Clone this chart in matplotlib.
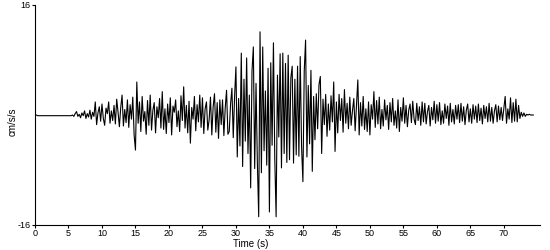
import numpy as np
import matplotlib
matplotlib.use("Agg")
import matplotlib.pyplot as plt

dt = 0.2  # sampling interval (s)

pre_event = [0.0, 0.0, -0.1, -0.1, -0.1, -0.1, -0.1, -0.1, -0.1, -0.1,
             -0.1, -0.1, -0.1, -0.1, -0.1, -0.1, -0.1, -0.1, -0.1, -0.1,
             -0.1, -0.1, -0.1, -0.1, -0.1, -0.1, -0.1, -0.1, 0.0, -0.2]

p_wave = [0.2, 0.5, -0.2, 0.1, -0.4,
          0.3, -0.1, 0.6, -0.5, 0.2,
          -0.3, 0.7, -0.6, 0.4, -0.2,
          1.9, -1.4, 0.3, 1.2, -0.9,
          1.6, -0.5, -1.5, 1.0, 0.2,
          1.9, -1.2, 0.6, -0.8, 1.4,
          -1.3, 2.3, 0.4, -1.7, 1.1,
          2.9, -1.6, 0.8, -1.1, 2.2]

s_onset = [-1.8, 1.5, -0.6, 2.6, -2.9,
           -5.1, 4.8, -1.2, 1.9, -2.4,
           2.7, -0.9, 0.5, -2.8, 2.1,
           -1.5, 2.9, -2.2, 0.7, 1.8,
           -2.6, 1.2, -0.4, 2.4, -1.9,
           3.4, -2.1, 0.9, -2.7, 1.6,
           -1.1, 2.5, -2.9, 1.3, 0.4]

s_build = [2.2, -1.7, 0.6, -2.4, 2.8,
           -0.8, 4.1, -1.9, 1.4, -2.6,
           2.0, -4.1, 1.1, -0.6, 2.7,
           -2.3, 1.5, -1.0, 2.9, -1.8,
           2.5, -2.7, 0.9, 1.9, -2.2,
           -0.7, 2.6, -2.9, 1.2, 3.1,
           -2.5, 1.8, -3.4, 2.2, -1.4,
           2.2, -3.0, 1.0, 3.6, -2.8]

strong_motion = [-2.4, 1.6, 3.9, -3.3, 2.7,
                 7.0, -6.1, 2.4, -4.5, 9.0,
                 -7.5, 5.2, -3.8, 8.3, -5.6,
                 2.9, -10.6, 6.4, 9.9, -7.8,
                 4.6, -6.9, -14.8, 12.1, -8.4,
                 9.9, -5.2, 3.5, -7.3, 6.8,
                 -14.1, 7.6, -4.4, 10.5, -6.3,
                 -14.8, 5.8, -3.2, 8.9, -7.7,
                 9.0, -5.6, 7.5, -6.9, 8.7,
                 -6.5, 5.4, 7.1, -7.0, 5.2,
                 -5.8, 7.1, -6.0, 8.5, -4.6,
                 -9.7, 6.4, 10.9, -6.1, 4.3,
                 -4.2, 6.5, -8.2, 2.7, -3.6]

coda = [3.1, -2.0, 4.4, 5.6, -5.6,
        2.3, -1.4, 3.0, -3.1, 1.6,
        -2.2, 2.8, -1.0, 4.8, -5.3,
        1.9, -2.6, 3.0, -0.8, 2.4,
        -2.5, 3.7, -1.2, 1.7, -2.0,
        2.6, -1.5, 0.6, 2.4, -2.3,
        1.3, 5.1, -2.9, 1.8, -1.6,
        2.7, -2.1, 0.9, -2.4, 1.9,
        -2.9, 1.5, -0.6, 3.4, -1.8,
        2.1, -1.3, 2.6, -2.0, 0.8,
        -1.6, 2.2, -0.7, 1.4, -2.1,
        1.8, -1.0, 2.4, -1.5, 0.6,
        -1.9, 2.2, -2.4, 1.1, -0.9]

tail = [2.5, -1.2, 1.4, -1.7, 0.7,
        1.6, -1.1, 2.0, -0.6, -1.4,
        1.7, -0.8, 1.2, -1.5, 1.9,
        -1.0, 1.7, -1.3, 0.5, 1.4,
        -1.6, 1.1, -0.7, 2.0, -1.2,
        1.5, -0.9, 1.8, -1.4, 0.6,
        -1.2, 1.6, -0.5, 1.3, -1.5,
        1.7, -1.0, 0.8, -1.3, 1.4,
        -0.6, 1.5, -1.1, 1.7, -0.9,
        1.2, -1.4, 0.7, 1.6, -1.0,
        0.9, -1.2, 1.5, -0.6, 1.3,
        -1.1, 1.6, -0.8, 1.0, -1.3,
        1.4, -0.5, 1.2, -1.0, 1.7,
        -0.9, 1.1, -1.2, 0.6, 1.5,
        -1.0, 1.3, -0.7, 1.1, -0.8,
        1.0, 2.7, -1.2, 0.9, -0.6,
        2.5, -1.1, 1.8, -0.9, 2.3,
        -1.0, 1.4, -0.5, 0.4, -0.2,
        0.3, -0.2, 0.1, 0.0, 0.1,
        0.0, 0.0, 0.0]

x_ticks = list(range(0, 75, 5))
y_ticks = [-16, 16]

acc = np.array(pre_event + p_wave + s_onset + s_build + strong_motion + coda + tail)
time = np.arange(len(acc)) * dt

plt.rcParams['font.family'] = ['Liberation Sans', 'DejaVu Sans']
fig = plt.figure(figsize=(5.5, 2.5), dpi=100)
ax = fig.add_axes([35/550, 25/250, 505/550, 220/250])
ax.plot(time, acc, color='black', lw=0.8)
ax.set_xlim(0, 75.4)
ax.set_ylim(-16, 16)
ax.set_xticks(x_ticks)
ax.set_xticklabels([str(v) for v in x_ticks])
ax.set_yticks(y_ticks)
ax.set_yticklabels([str(v) for v in y_ticks])
for s in ['top', 'right']:
    ax.spines[s].set_visible(False)
for s in ['left', 'bottom']:
    ax.spines[s].set_linewidth(0.8)
ax.tick_params(axis='both', labelsize=6.5, length=2.5, width=0.8, pad=0.5)
fig.text(251/550, 1/250, 'Time (s)', fontsize=7, ha='center', va='bottom')
fig.text(13/550, 1 - 122/250, 'cm/s/s', fontsize=7, ha='center', va='center', rotation=90)
fig.savefig('out.png', dpi=100)
